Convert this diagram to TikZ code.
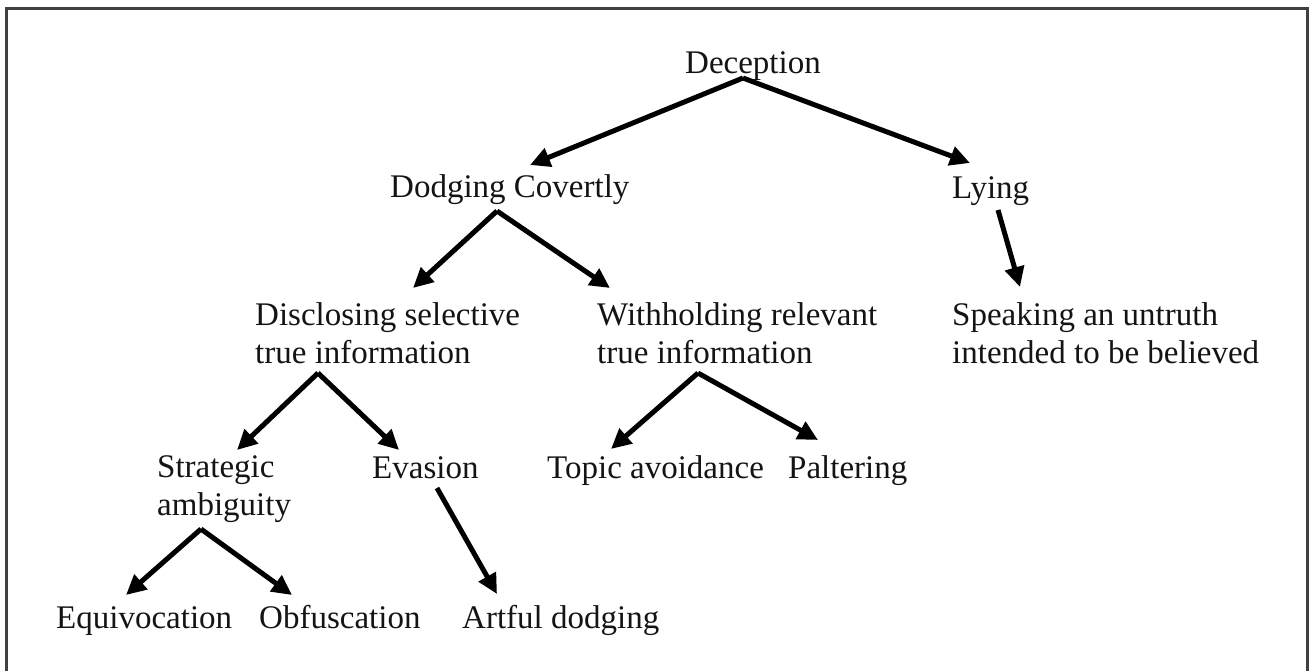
\documentclass[tikz,border=0pt]{standalone}
\usepackage{fontspec}
\setmainfont{Liberation Serif}
\usetikzlibrary{arrows.meta,calc}
\begin{document}
\begin{tikzpicture}[x=1pt,y=-1pt,
  lbl/.style={inner sep=0pt,anchor=base west,align=left,text=black!92,
    font=\fontsize{33}{38}\selectfont},
  arr/.style={line width=5pt,-{Triangle[length=20pt,width=19pt]}},
  frame/.style={line width=3pt,draw=black!75}]
\useasboundingbox (0,0) rectangle (1309,670);
\draw[frame] (6,672) -- (6,8) -- (1307,8) -- (1307,672);
% nodes (base west = baseline of the last line)
\node[lbl] (dec) at (685,73) {Deception};
\node[lbl] (dc) at (390,197) {Dodging Covertly};
\node[lbl] (ly) at (952,198) {Lying};
\node[lbl] (dis) at (255,363) {Disclosing selective\\true information};
\node[lbl] (wit) at (597,363) {Withholding relevant\\true information};
\node[lbl] (spk) at (952,363) {Speaking an untruth\\intended to be believed};
\node[lbl] (str) at (157,515) {Strategic\\ambiguity};
\node[lbl] (eva) at (372,478) {Evasion};
\node[lbl] (top) at (547,478) {Topic avoidance};
\node[lbl] (pal) at (788,478) {Paltering};
\node[lbl] (equ) at (56,628) {Equivocation};
\node[lbl] (obf) at (259,628) {Obfuscation};
\node[lbl] (art) at (462,628) {Artful dodging};
% connectors
\draw[arr] ($(dec.base west)+(58,5)$) -- ($(dc.base west)+(140,-32)$);
\draw[arr] ($(dec.base west)+(58,5)$) -- ($(ly.base west)+(18,-35)$);
\draw[arr] ($(dc.base west)+(107,14)$) -- ($(dis.base west)+(158,-75)$);
\draw[arr] ($(dc.base west)+(107,14)$) -- ($(wit.base west)+(13,-75)$);
\draw[arr] ($(ly.base west)+(46,12)$) -- ($(spk.base west)+(68,-76)$);
\draw[arr] ($(dis.base west)+(63,10)$) -- ($(str.base west)+(80,-65)$);
\draw[arr] ($(dis.base west)+(63,10)$) -- ($(eva.base west)+(27,-28)$);
\draw[arr] ($(wit.base west)+(101,10)$) -- ($(top.base west)+(64,-29)$);
\draw[arr] ($(wit.base west)+(101,10)$) -- ($(pal.base west)+(30,-38)$);
\draw[arr] ($(str.base west)+(44,14)$) -- ($(equ.base west)+(70,-33)$);
\draw[arr] ($(str.base west)+(44,14)$) -- ($(obf.base west)+(33,-33)$);
\draw[arr] ($(eva.base west)+(65,10)$) -- ($(art.base west)+(35,-34)$);
\end{tikzpicture}
\end{document}
